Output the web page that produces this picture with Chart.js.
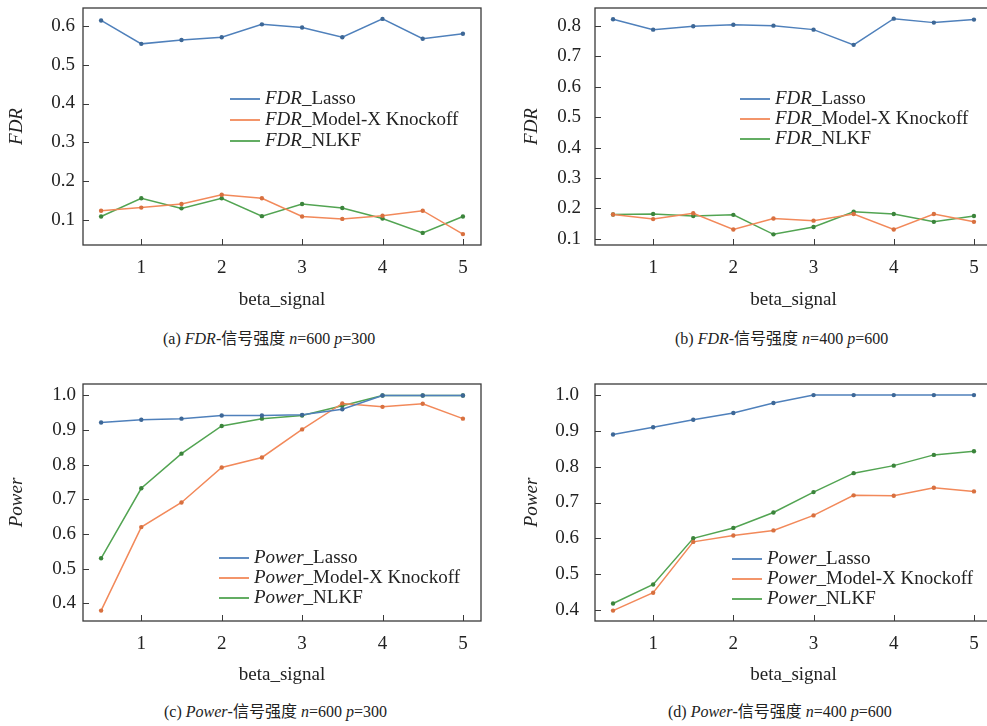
<!DOCTYPE html>
<html>
<head>
<meta charset="utf-8">
<script src="https://cdn.jsdelivr.net/npm/chart.js@4.4.0/dist/chart.umd.min.js"></script>
<style>
  html, body { margin: 0; padding: 0; background: #fff; overflow: hidden; width: 987px; height: 726px; }
  canvas { position: absolute; }
  .cap { position: absolute; font-family: "Liberation Serif", "DejaVu Serif", "Noto Sans CJK SC", serif; font-size: 16px; line-height: 16px; color: #222; white-space: nowrap; }
  .cap i { font-style: italic; }
</style>
</head>
<body>
<canvas id="chartA" width="490" height="315" style="left:0;top:0;width:490px;height:315px"></canvas>
<canvas id="chartB" width="510" height="315" style="left:490px;top:0;width:510px;height:315px"></canvas>
<canvas id="chartC" width="490" height="320" style="left:0;top:370px;width:490px;height:320px"></canvas>
<canvas id="chartD" width="510" height="320" style="left:490px;top:370px;width:510px;height:320px"></canvas>

<div class="cap" style="left:163px;top:331px">(a) <i>FDR</i>-信号强度 <i>n</i>=600 <i>p</i>=300</div>
<div class="cap" style="left:675px;top:331px">(b) <i>FDR</i>-信号强度 <i>n</i>=400 <i>p</i>=600</div>
<div class="cap" style="left:164px;top:704px">(c) <i>Power</i>-信号强度 <i>n</i>=600 <i>p</i>=300</div>
<div class="cap" style="left:668px;top:704px">(d) <i>Power</i>-信号强度 <i>n</i>=400 <i>p</i>=600</div>

<script>
// x values shared by all four panels
var betaSignal = [0.5, 1, 1.5, 2, 2.5, 3, 3.5, 4, 4.5, 5];
var xTicks = [1, 2, 3, 4, 5];
var methods = ["Lasso", "Model-X Knockoff", "NLKF"];

// (a) FDR, n=600 p=300
var fdrA_lasso = [0.613, 0.553, 0.563, 0.570, 0.603, 0.595, 0.570, 0.617, 0.566, 0.579];
var fdrA_knockoff = [0.125, 0.133, 0.142, 0.166, 0.157, 0.110, 0.104, 0.112, 0.125, 0.065];
var fdrA_nlkf = [0.110, 0.157, 0.131, 0.157, 0.111, 0.142, 0.132, 0.105, 0.068, 0.110];
var yTicksA = [0.1, 0.2, 0.3, 0.4, 0.5, 0.6];

// (b) FDR, n=400 p=600
var fdrB_lasso = [0.821, 0.787, 0.798, 0.803, 0.800, 0.787, 0.737, 0.823, 0.810, 0.820];
var fdrB_knockoff = [0.180, 0.165, 0.184, 0.131, 0.167, 0.160, 0.182, 0.131, 0.182, 0.156];
var fdrB_nlkf = [0.180, 0.182, 0.175, 0.179, 0.115, 0.139, 0.189, 0.182, 0.156, 0.175];
var yTicksB = [0.1, 0.2, 0.3, 0.4, 0.5, 0.6, 0.7, 0.8];

// (c) Power, n=600 p=300
var powC_lasso = [0.922, 0.930, 0.933, 0.942, 0.942, 0.944, 0.960, 1.0, 1.0, 1.0];
var powC_knockoff = [0.379, 0.620, 0.691, 0.792, 0.821, 0.902, 0.977, 0.967, 0.976, 0.933];
var powC_nlkf = [0.530, 0.732, 0.832, 0.912, 0.933, 0.942, 0.970, 1.0, 1.0, 1.0];
var yTicksC = [0.4, 0.5, 0.6, 0.7, 0.8, 0.9, 1.0];

// (d) Power, n=400 p=600
var powD_lasso = [0.890, 0.910, 0.931, 0.950, 0.978, 1.0, 1.0, 1.0, 1.0, 1.0];
var powD_knockoff = [0.398, 0.448, 0.590, 0.608, 0.622, 0.664, 0.720, 0.719, 0.741, 0.731];
var powD_nlkf = [0.418, 0.471, 0.600, 0.629, 0.672, 0.729, 0.782, 0.803, 0.833, 0.843];
var yTicksD = [0.4, 0.5, 0.6, 0.7, 0.8, 0.9, 1.0];

var colors = ["#4f80bb", "#f2895a", "#52a452"];
var pointColors = ["#3d6796", "#d8703f", "#3b843b"];
var serif = "'Liberation Serif', 'DejaVu Serif', serif";

// frame + inward tick marks + legend with italic prefix
var framePlugin = {
    id: "frame",
    afterDraw: function (chart) {
        var ctx = chart.ctx;
        var a = chart.chartArea;
        var opts = chart.options.plugins.frame;
        ctx.save();
        ctx.strokeStyle = "#3a3a3a";
        ctx.lineWidth = 1.3;
        ctx.strokeRect(a.left, a.top, a.right - a.left, a.bottom - a.top);
        ctx.lineWidth = 1;
        var xs = chart.scales.x, ys = chart.scales.y;
        xs.ticks.forEach(function (t) {
            var px = Math.round(xs.getPixelForValue(t.value)) + 0.5;
            ctx.beginPath();
            ctx.moveTo(px, a.bottom);
            ctx.lineTo(px, a.bottom - 6);
            ctx.stroke();
        });
        ys.ticks.forEach(function (t) {
            var py = Math.round(ys.getPixelForValue(t.value)) + 0.5;
            ctx.beginPath();
            ctx.moveTo(a.left, py);
            ctx.lineTo(a.left + 6, py);
            ctx.stroke();
        });

        // legend
        var lx = a.left + opts.legendX, ly = a.top + opts.legendY;
        ctx.textBaseline = "middle";
        chart.data.datasets.forEach(function (ds, i) {
            var y = ly + i * opts.legendGap;
            ctx.strokeStyle = ds.borderColor;
            ctx.lineWidth = 1.8;
            ctx.beginPath();
            ctx.moveTo(lx, y);
            ctx.lineTo(lx + 30, y);
            ctx.stroke();
            ctx.fillStyle = "#222";
            ctx.font = "italic 19px " + serif;
            ctx.fillText(opts.prefix, lx + 35, y);
            var w = ctx.measureText(opts.prefix).width;
            ctx.font = "19px " + serif;
            ctx.fillText("_" + methods[i], lx + 35 + w, y);
        });
        ctx.restore();
    }
};

function makePanel(id, prefix, series, yTicks, yMin, yMax, layout) {
    var ctx = document.getElementById(id).getContext("2d");
    var datasets = series.map(function (vals, i) {
        return {
            label: prefix + "_" + methods[i],
            data: betaSignal.map(function (b, k) { return { x: b, y: vals[k] }; }),
            borderColor: colors[i],
            backgroundColor: pointColors[i],
            pointBackgroundColor: pointColors[i],
            pointBorderWidth: 0,
            pointRadius: 2.2,
            borderWidth: 1.5,
            tension: 0
        };
    });
    return new Chart(ctx, {
        type: "line",
        data: { datasets: datasets },
        options: {
            responsive: false,
            animation: false,
            layout: { padding: { left: layout.padLeft, right: layout.padRight, top: layout.padTop, bottom: 0 } },
            plugins: {
                legend: { display: false },
                tooltip: { enabled: false },
                frame: { prefix: prefix, legendX: layout.legendX, legendY: layout.legendY, legendGap: layout.legendGap }
            },
            scales: {
                x: {
                    type: "linear",
                    min: 0.275,
                    max: 5.225,
                    afterBuildTicks: function (s) { s.ticks = xTicks.map(function (v) { return { value: v }; }); },
                    afterFit: function (s) { s.height = layout.xHeight; s.paddingLeft = 0; s.paddingRight = 0; },
                    grid: { display: false, drawTicks: false },
                    border: { display: false },
                    ticks: { color: "#222", padding: 12, maxRotation: 0, font: { family: serif, size: 19 } },
                    title: { display: true, text: "beta_signal", color: "#222", padding: { top: 4, bottom: 4 }, font: { family: serif, size: 19 } }
                },
                y: {
                    min: yMin,
                    max: yMax,
                    afterBuildTicks: function (s) { s.ticks = yTicks.map(function (v) { return { value: v }; }); },
                    afterFit: function (s) { s.width = layout.yWidth; s.paddingTop = 0; s.paddingBottom = 0; },
                    grid: { display: false, drawTicks: false },
                    border: { display: false },
                    ticks: {
                        color: "#222",
                        padding: layout.yPad,
                        font: { family: serif, size: 19 },
                        callback: function (v) { return Number(v).toFixed(1); }
                    },
                    title: { display: true, text: prefix, color: "#222", padding: { top: 6, bottom: 4 }, font: { family: serif, size: 19, style: "italic" } }
                }
            }
        },
        plugins: [framePlugin]
    });
}

makePanel("chartA", "FDR", [fdrA_lasso, fdrA_knockoff, fdrA_nlkf], yTicksA, 0.037, 0.645,
    { padLeft: 0, padRight: 9, padTop: 8, xHeight: 70, yWidth: 83, yPad: 8, legendX: 147, legendY: 91, legendGap: 21 });
makePanel("chartB", "FDR", [fdrB_lasso, fdrB_knockoff, fdrB_nlkf], yTicksB, 0.080, 0.858,
    { padLeft: 25, padRight: 8, padTop: 8, xHeight: 70, yWidth: 80, yPad: 14, legendX: 145, legendY: 91, legendGap: 20 });
makePanel("chartC", "Power", [powC_lasso, powC_knockoff, powC_nlkf], yTicksC, 0.349, 1.033,
    { padLeft: 0, padRight: 9, padTop: 14, xHeight: 69, yWidth: 83, yPad: 7, legendX: 136, legendY: 174, legendGap: 20 });
makePanel("chartD", "Power", [powD_lasso, powD_knockoff, powD_nlkf], yTicksD, 0.369, 1.031,
    { padLeft: 25, padRight: 8, padTop: 14, xHeight: 69, yWidth: 80, yPad: 16, legendX: 137, legendY: 175, legendGap: 20 });
</script>
</body>
</html>
